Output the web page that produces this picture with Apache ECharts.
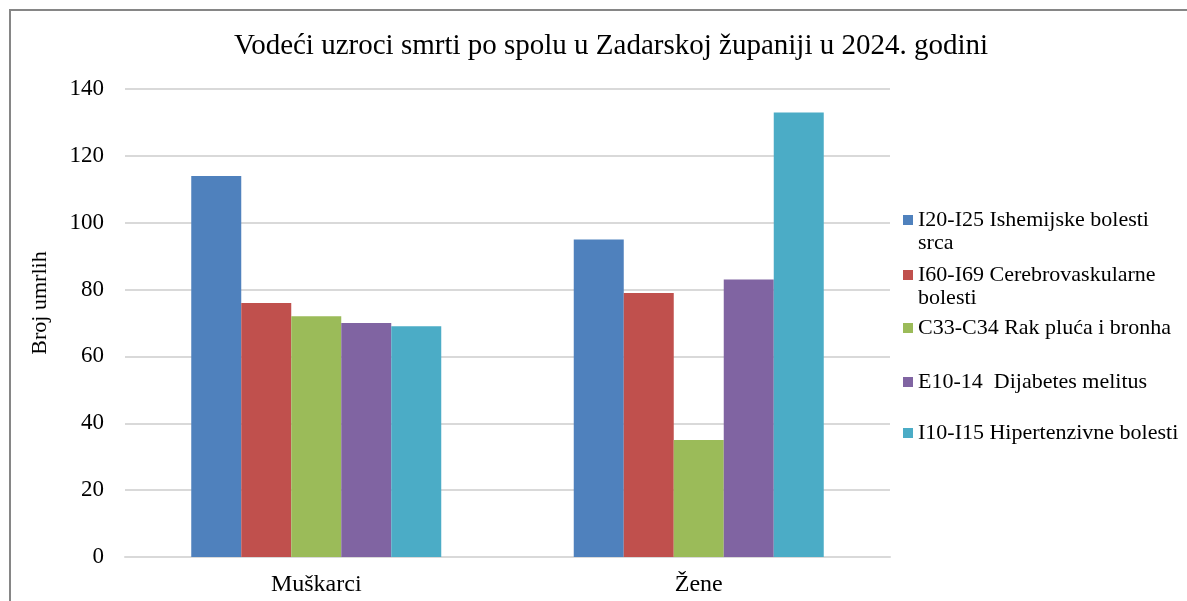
<!DOCTYPE html>
<html>
<head>
<meta charset="utf-8">
<script src="https://cdn.jsdelivr.net/npm/echarts@6/dist/echarts.min.js"></script>
<style>
  html, body { margin: 0; padding: 0; background: #fff; }
  #chart { width: 1187px; height: 601px; }
</style>
</head>
<body>
<div id="chart"></div>
<script>
const categories = ['Muškarci', 'Žene']
const seriesNames = [
  'I20-I25 Ishemijske bolesti srca',
  'I60-I69 Cerebrovaskularne bolesti',
  'C33-C34 Rak pluća i bronha',
  'E10-14  Dijabetes melitus',
  'I10-I15 Hipertenzivne bolesti'
]
const ishemijske = [114, 95]
const cerebrovaskularne = [76, 79]
const rakPluca = [72, 35]
const dijabetes = [70, 83]
const hipertenzivne = [69, 133]
const yTicks = [0, 20, 40, 60, 80, 100, 120, 140]

const colors = ['#4f81bd', '#c0504d', '#9bbb59', '#8064a2', '#4bacc6']
const values = [ishemijske, cerebrovaskularne, rakPluca, dijabetes, hipertenzivne]
const font = '"Liberation Serif", "Times New Roman", serif'

// legend: one block per item so the square sits on the first text line
const legendMid = [220, 275, 328, 382, 433]
const legendFirstLine = [
  'I20-I25 Ishemijske bolesti',
  'I60-I69 Cerebrovaskularne',
  'C33-C34 Rak pluća i bronha',
  'E10-14  Dijabetes melitus',
  'I10-I15 Hipertenzivne bolesti'
]
const legendSecondLine = ['srca', 'bolesti', '', '', '']
const legendSize = 22

const chart = echarts.init(document.getElementById('chart'))

const legends = seriesNames.map((name, i) => ({
  data: [name],
  orient: 'vertical',
  left: 903,
  top: legendMid[i] - 12,
  itemWidth: 10,
  itemHeight: 10,
  itemGap: 0,
  padding: 0,
  selectedMode: false,
  icon: 'rect',
  formatter: () => legendFirstLine[i],
  textStyle: { fontFamily: font, fontSize: legendSize, lineHeight: 24, color: '#000' }
}))

const extraText = legendSecondLine
  .map((t, i) => ({ t, i }))
  .filter(d => d.t)
  .map(d => ({
    type: 'text',
    x: 918,
    y: legendMid[d.i] + 23,
    style: { text: d.t, font: legendSize + 'px ' + font, fill: '#000', verticalAlign: 'middle' }
  }))

const option = {
  backgroundColor: '#fff',
  animation: false,
  title: {
    text: 'Vodeći uzroci smrti po spolu u Zadarskoj županiji u 2024. godini',
    left: 606,
    textAlign: 'center',
    top: 27,
    textStyle: { fontFamily: font, fontSize: 29, fontWeight: 'normal', color: '#000' }
  },
  legend: legends,
  graphic: [
    {
      type: 'rect',
      shape: { x: 10, y: 10, width: 1200, height: 620 },
      style: { fill: 'none', stroke: '#868686', lineWidth: 2 },
      silent: true
    },
    {
      type: 'text',
      x: 40,
      y: 303,
      rotation: Math.PI / 2,
      style: {
        text: 'Broj umrlih',
        font: '22px ' + font,
        fill: '#000',
        align: 'center',
        verticalAlign: 'middle'
      }
    }
  ].concat(extraText),
  grid: { left: 125, right: 297, top: 89, bottom: 44 },
  xAxis: {
    type: 'category',
    data: categories,
    axisLine: { show: true, lineStyle: { color: '#d9d9d9', width: 2 } },
    axisTick: { show: false },
    axisLabel: { fontFamily: font, fontSize: 24, color: '#000', margin: 16 }
  },
  yAxis: {
    type: 'value',
    min: yTicks[0],
    max: yTicks[yTicks.length - 1],
    interval: 20,
    axisLine: { show: false },
    axisTick: { show: false },
    axisLabel: { fontFamily: font, fontSize: 23, color: '#000', margin: 21 },
    splitLine: { lineStyle: { color: '#d9d9d9', width: 2 } }
  },
  series: seriesNames.map((name, i) => ({
    name,
    type: 'bar',
    data: values[i],
    barWidth: 50,
    barGap: '0%',
    itemStyle: { color: colors[i] }
  }))
}

chart.setOption(option)
</script>
</body>
</html>
